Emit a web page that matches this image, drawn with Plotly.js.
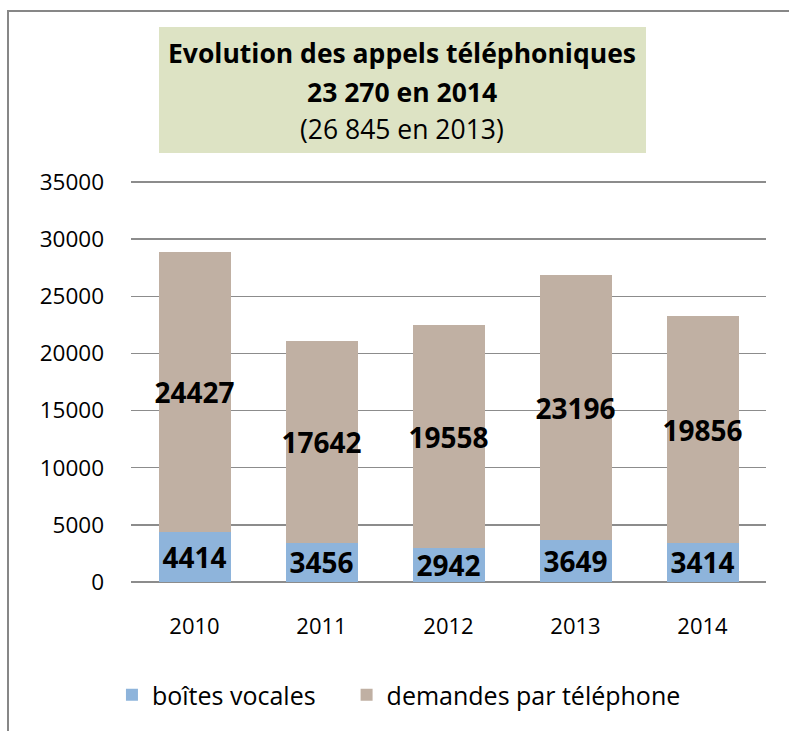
<!DOCTYPE html>
<html>
<head>
<meta charset="utf-8">
<script src="https://cdn.plot.ly/plotly-3.0.1.min.js"></script>
<style>html,body{margin:0;padding:0;background:#fff;}#chart{width:789px;height:731px;}</style>
</head>
<body>
<div id="chart"></div>
<script>
const years = ['2010', '2011', '2012', '2013', '2014'];
const boitesVocales = [4414, 3456, 2942, 3649, 3414];
const demandesTelephone = [24427, 17642, 19558, 23196, 19856];
const seriesNames = ['boîtes vocales', 'demandes par téléphone'];
const yTicks = [0, 5000, 10000, 15000, 20000, 25000, 30000, 35000];
const titleLines = ['<b>Evolution des appels téléphoniques</b>', '<b>23 270 en 2014</b>', '(26 845 en 2013)'];

const FONT = 'Open Sans, Noto Sans, Liberation Sans, sans-serif';
const labelFont = {family: FONT, size: 28, color: '#000', weight: 'bold'};
const NBSP = '\u00a0';

const traces = [
  {
    type: 'bar', name: seriesNames[0] + NBSP.repeat(4), x: years, y: boitesVocales,
    marker: {color: '#8eb4db'},
    text: boitesVocales.map(String), texttemplate: '<b>%{text}</b>',
    textposition: 'inside', insidetextanchor: 'middle', textangle: 0,
    constraintext: 'none', insidetextfont: labelFont, cliponaxis: false,
    hoverinfo: 'none'
  },
  {
    type: 'bar', name: seriesNames[1], x: years, y: demandesTelephone,
    marker: {color: '#c0b0a3'},
    text: demandesTelephone.map(String), texttemplate: '<b>%{text}</b>',
    textposition: 'inside', insidetextanchor: 'middle', textangle: 0,
    constraintext: 'none', insidetextfont: labelFont, cliponaxis: false,
    hoverinfo: 'none'
  }
];

const titleY = [1.3159, 1.2201, 1.1269];
const annotations = titleLines.map((t, i) => ({
  xref: 'paper', yref: 'paper', x: 0.4268, y: titleY[i],
  xanchor: 'center', yanchor: 'middle', showarrow: false,
  text: t, font: {family: FONT, size: 26.5, color: '#000'}
}));

const layout = {
  width: 789, height: 731,
  margin: {l: 131, r: 23, t: 180, b: 149, pad: 0},
  paper_bgcolor: '#ffffff', plot_bgcolor: '#ffffff',
  barmode: 'stack', bargap: 0.433,
  font: {family: FONT, color: '#000'},
  xaxis: {
    type: 'category', showgrid: false, zeroline: false, showline: false,
    ticks: '', tickfont: {family: FONT, size: 22, color: '#000'},
    ticklabelstandoff: 29
  },
  yaxis: {
    range: [0, 35175], tickvals: yTicks, ticktext: yTicks.map(String),
    showgrid: true, gridcolor: '#8c8c8c', gridwidth: 1.5,
    zeroline: true, zerolinecolor: '#8c8c8c', zerolinewidth: 1.5,
    showline: false, ticks: '',
    tickfont: {family: FONT, size: 22.5, color: '#000'},
    ticklabelstandoff: 26
  },
  showlegend: true,
  legend: {
    orientation: 'h', x: -0.03, xanchor: 'left', y: -0.2811, yanchor: 'middle',
    font: {family: FONT, size: 25, color: '#000'},
    traceorder: 'normal', bgcolor: 'rgba(0,0,0,0)'
  },
  shapes: [
    {type: 'rect', xref: 'paper', yref: 'paper', x0: -0.1937, x1: 1.2, y0: -0.6, y1: 1.4204,
     line: {color: '#878787', width: 2}, fillcolor: 'rgba(0,0,0,0)', layer: 'below'},
    {type: 'rect', xref: 'paper', yref: 'paper', x0: 0.0441, x1: 0.811, y0: 1.0672, y1: 1.3806,
     line: {width: 0}, fillcolor: '#dde3c4', layer: 'below'}
  ],
  annotations: annotations
};

Plotly.newPlot('chart', traces, layout, {staticPlot: true, displayModeBar: false});
</script>
</body>
</html>
